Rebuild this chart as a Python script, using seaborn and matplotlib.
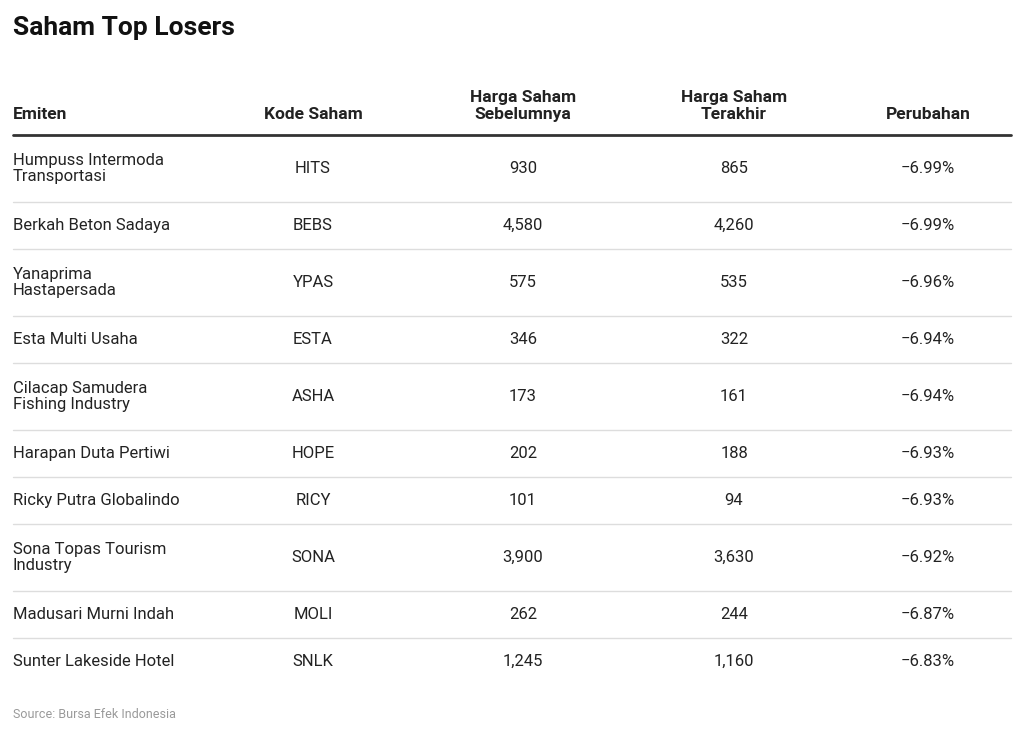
import matplotlib
matplotlib.use("Agg")
import matplotlib.pyplot as plt
import seaborn as sns

sns.set_theme(style="white", font="Roboto")

emiten = ["Humpuss Intermoda\nTransportasi", "Berkah Beton Sadaya", "Yanaprima\nHastapersada",
          "Esta Multi Usaha", "Cilacap Samudera\nFishing Industry", "Harapan Duta Pertiwi",
          "Ricky Putra Globalindo", "Sona Topas Tourism\nIndustry", "Madusari Murni Indah",
          "Sunter Lakeside Hotel"]
kode = ["HITS", "BEBS", "YPAS", "ESTA", "ASHA", "HOPE", "RICY", "SONA", "MOLI", "SNLK"]
sebelum = ["930", "4,580", "575", "346", "173", "202", "101", "3,900", "262", "1,245"]
terakhir = ["865", "4,260", "535", "322", "161", "188", "94", "3,630", "244", "1,160"]
perubahan = ["−6.99%", "−6.99%", "−6.96%", "−6.94%", "−6.94%", "−6.93%", "−6.93%", "−6.92%", "−6.87%", "−6.83%"]
headers = ["Emiten", "Kode Saham", "Harga Saham\nSebelumnya", "Harga Saham\nTerakhir", "Perubahan"]

fig = plt.figure(figsize=(10.24, 7.35), dpi=100)
ax = fig.add_axes([0, 0, 1, 1])
ax.set_xlim(0, 1024)
ax.set_ylim(735, 0)
ax.axis("off")

txt = "#222222"
ax.text(13, 28, "Saham Top Losers", fontsize=19, fontweight="bold", color="#111111", va="center")

colx = [13, 313, 523, 734, 928]
ha = ["left", "center", "center", "center", "center"]
for x, h, a in zip(colx, headers, ha):
    ax.text(x, 122, h, fontsize=12.5, fontweight="bold", color=txt, ha=a, va="bottom", linespacing=1.15)
ax.plot([13, 1011], [135, 135], color="#333333", lw=2)

y = 135
for i in range(len(kode)):
    h = 67 if "\n" in emiten[i] else 47
    cy = y + h / 2
    vals = [emiten[i], kode[i], sebelum[i], terakhir[i], perubahan[i]]
    for x, v, a in zip(colx, vals, ha):
        ax.text(x, cy, v, fontsize=12, color=txt, ha=a, va="center", linespacing=1.15)
    y += h
    if i < len(kode) - 1:
        ax.plot([13, 1011], [y, y], color="#dddddd", lw=1)

ax.text(13, 714, "Source: Bursa Efek Indonesia", fontsize=9, color="#999999", va="center")
fig.savefig("out.png", dpi=100)
